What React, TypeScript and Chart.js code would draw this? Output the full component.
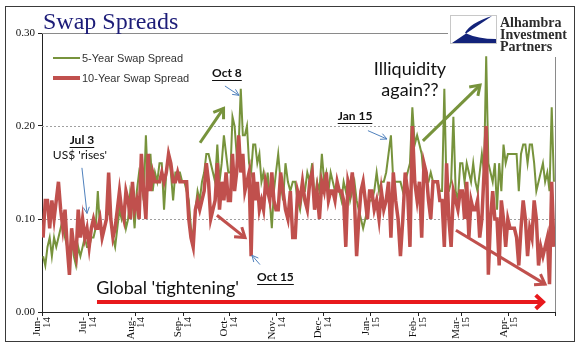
import React, { useEffect, useRef } from 'react';
import { Chart, registerables } from 'chart.js';

Chart.register(...registerables);

// ---- axis / categories ----
const monthLabels = [
  ['Jun-', '14'], ['Jul-', '14'], ['Aug-', '14'], ['Sep-', '14'], ['Oct-', '14'], ['Nov-', '14'],
  ['Dec-', '14'], ['Jan-', '15'], ['Feb-', '15'], ['Mar-', '15'], ['Apr-', '15'],
];
const monthStartDays = [0, 30, 61, 92, 122, 153, 183, 214, 245, 273, 304];
const monthLengths = [30, 31, 31, 30, 31, 30, 31, 31, 28, 31, 30];
const axisEndDay = 334;
const yTicks = [0, 0.1, 0.2, 0.3];

// ---- 5-Year Swap Spread (daily, by month) ----
const five_Jun14 = [0.06,0.05,0.07,0.08,0.06,0.08,0.07,0.08,0.09,0.10,0.08,0.07,0.06,0.08,0.06,0.05,0.07,0.06,0.07,0.08,0.07];
const five_Jul14 = [0.07,0.08,0.08,0.09,0.13,0.09,0.09,0.09,0.10,0.11,0.10,0.08,0.07,0.09,0.11,0.10,0.11,0.09,0.10,0.13,0.12,0.09];
const five_Aug14 = [0.13,0.15,0.14,0.12,0.19,0.13,0.17,0.13,0.15,0.14,0.16,0.16,0.11,0.15,0.17,0.15,0.12,0.15,0.15,0.15,0.14];
const five_Sep14 = [0.14,0.13,0.12,0.09,0.08,0.11,0.13,0.12,0.14,0.15,0.17,0.17,0.16,0.15,0.14,0.18,0.14,0.16,0.19,0.17,0.15];
const five_Oct14 = [0.15,0.21,0.20,0.17,0.18,0.24,0.19,0.19,0.20,0.16,0.15,0.18,0.18,0.16,0.17,0.14,0.15,0.13,0.15,0.12,0.09,0.13,0.15];
const five_Nov14 = [0.17,0.14,0.12,0.16,0.14,0.13,0.14,0.14,0.12,0.11,0.13,0.13,0.15,0.14,0.16,0.12,0.14,0.13,0.17];
const five_Dec14 = [0.14,0.15,0.13,0.15,0.14,0.13,0.14,0.13,0.12,0.14,0.13,0.14,0.12,0.13,0.14,0.12,0.11,0.10,0.09,0.10,0.11,0.12];
const five_Jan15 = [0.12,0.13,0.15,0.13,0.14,0.14,0.15,0.17,0.19,0.14,0.14,0.14,0.14,0.13,0.14,0.15,0.16,0.22,0.18,0.19];
const five_Feb15 = [0.18,0.17,0.14,0.14,0.14,0.15,0.14,0.14,0.14,0.13,0.13,0.24,0.13,0.13,0.14,0.21,0.13,0.12,0.16];
const five_Mar15 = [0.16,0.14,0.16,0.15,0.14,0.16,0.14,0.13,0.15,0.17,0.15,0.275,0.16,0.15,0.14,0.16,0.11,0.16,0.13,0.18,0.16,0.17];
const five_Apr15 = [0.17,0.17,0.17,0.17,0.13,0.17,0.18,0.18,0.16,0.18,0.18,0.16,0.13,0.14,0.15,0.16,0.14,0.15,0.13,0.22,0.14];

// ---- 10-Year Swap Spread (daily, by month) ----
const ten_Jun14 = [0.08,0.12,0.12,0.09,0.12,0.10,0.12,0.14,0.11,0.09,0.11,0.07,0.04,0.09,0.07,0.06,0.11,0.08,0.10,0.08,0.09];
const ten_Jul14 = [0.07,0.09,0.10,0.09,0.09,0.10,0.08,0.09,0.10,0.15,0.10,0.08,0.09,0.11,0.13,0.11,0.10,0.13,0.12,0.10,0.14,0.11];
const ten_Aug14 = [0.12,0.10,0.17,0.13,0.10,0.17,0.13,0.15,0.14,0.14,0.14,0.15,0.14,0.15,0.17,0.16,0.14,0.14,0.15,0.14,0.14];
const ten_Sep14 = [0.14,0.14,0.10,0.08,0.07,0.11,0.12,0.11,0.12,0.13,0.16,0.14,0.10,0.11,0.12,0.16,0.11,0.14,0.12,0.15,0.12];
const ten_Oct14 = [0.12,0.17,0.13,0.15,0.19,0.15,0.17,0.13,0.14,0.15,0.06,0.15,0.12,0.14,0.11,0.12,0.11,0.14,0.13,0.12,0.15,0.12,0.11];
const ten_Nov14 = [0.11,0.15,0.13,0.11,0.10,0.13,0.08,0.08,0.13,0.12,0.14,0.12,0.11,0.14,0.15,0.11,0.13,0.10,0.14];
const ten_Dec14 = [0.13,0.15,0.12,0.13,0.13,0.12,0.14,0.13,0.13,0.12,0.07,0.14,0.13,0.15,0.12,0.06,0.10,0.13,0.14,0.12,0.10,0.13];
const ten_Jan15 = [0.13,0.11,0.12,0.10,0.13,0.11,0.12,0.14,0.08,0.15,0.12,0.10,0.06,0.10,0.15,0.13,0.07,0.20,0.14,0.12];
const ten_Feb15 = [0.14,0.08,0.16,0.15,0.12,0.10,0.14,0.14,0.14,0.12,0.12,0.07,0.16,0.10,0.07,0.13,0.12,0.11,0.13];
const ten_Mar15 = [0.13,0.10,0.14,0.08,0.12,0.11,0.11,0.12,0.08,0.10,0.15,0.20,0.04,0.10,0.13,0.10,0.10,0.05,0.12,0.10,0.07,0.10];
const ten_Apr15 = [0.09,0.09,0.09,0.08,0.05,0.09,0.12,0.10,0.06,0.09,0.08,0.12,0.10,0.05,0.07,0.06,0.07,0.08,0.03,0.14,0.07];

const fiveYearByMonth = [five_Jun14, five_Jul14, five_Aug14, five_Sep14, five_Oct14, five_Nov14, five_Dec14, five_Jan15, five_Feb15, five_Mar15, five_Apr15];
const tenYearByMonth = [ten_Jun14, ten_Jul14, ten_Aug14, ten_Sep14, ten_Oct14, ten_Nov14, ten_Dec14, ten_Jan15, ten_Feb15, ten_Mar15, ten_Apr15];

const seriesNames = ['5-Year Swap Spread', '10-Year Swap Spread'];

// ---- annotations (data coordinates: day since Jun 1 2014, spread) ----
const textNotes = [
  { text: 'Jul 3', at: [26.0, 0.185], style: 'tag' },
  { text: "US$ 'rises'", at: [24.7, 0.169], style: 'small' },
  { text: 'Oct 8', at: [120.4, 0.257], style: 'tag' },
  { text: 'Oct 15', at: [152.0, 0.038], style: 'tag' },
  { text: 'Jan 15', at: [203.8, 0.211], style: 'tag' },
  { text: 'Illiquidity', at: [239.6, 0.261], style: 'big' },
  { text: 'again??', at: [239.6, 0.238], style: 'big' },
];
const globalNote = { text: "Global 'tightening'", at: [35.3, 0.026] };
const arrowNotes = [
  { from: [26.0, 0.155], to: [29.3, 0.106], kind: 'blue' },
  { from: [119.1, 0.243], to: [128.3, 0.233], kind: 'blue' },
  { from: [141.9, 0.051], to: [136.7, 0.061], kind: 'blue' },
  { from: [212.2, 0.195], to: [224.6, 0.186], kind: 'blue' },
  { from: [102.9, 0.182], to: [118.2, 0.219], kind: 'green' },
  { from: [248.0, 0.184], to: [285.2, 0.244], kind: 'green' },
  { from: [113.9, 0.104], to: [132.2, 0.080], kind: 'red' },
  { from: [269.5, 0.088], to: [327.5, 0.030], kind: 'red' },
  { from: [35.8, 0.0108], to: [326.2, 0.0108], kind: 'bright' },
];

const GREEN = '#77933C';
const RED = '#C0504D';

function buildPoints(byMonth: number[][]) {
  const pts: { x: number; y: number }[] = [];
  byMonth.forEach((arr, m) => {
    const n = arr.length;
    arr.forEach((v, i) => {
      pts.push({ x: monthStartDays[m] + ((i + 0.5) * monthLengths[m]) / n, y: v });
    });
  });
  return pts;
}

function drawArrow(ctx: CanvasRenderingContext2D, x1: number, y1: number, x2: number, y2: number, color: string, lw: number, head: number, ang = 0.55) {
  ctx.save();
  ctx.strokeStyle = color;
  ctx.lineWidth = lw;
  ctx.lineCap = 'butt';
  ctx.lineJoin = 'miter';
  ctx.beginPath();
  ctx.moveTo(x1, y1);
  ctx.lineTo(x2, y2);
  ctx.stroke();
  const a = Math.atan2(y2 - y1, x2 - x1);
  ctx.beginPath();
  ctx.moveTo(x2 - head * Math.cos(a - ang), y2 - head * Math.sin(a - ang));
  ctx.lineTo(x2, y2);
  ctx.lineTo(x2 - head * Math.cos(a + ang), y2 - head * Math.sin(a + ang));
  ctx.stroke();
  ctx.restore();
}

const LOGO_LEFT = 448;
const LOGO_BOTTOM = 57;

const decorPlugin = {
  id: 'decor',
  beforeDraw(chart: any) {
    const ctx = chart.ctx as CanvasRenderingContext2D;
    ctx.save();
    ctx.fillStyle = '#ffffff';
    ctx.fillRect(0, 0, chart.width, chart.height);
    ctx.strokeStyle = '#3a3a3a';
    ctx.lineWidth = 1;
    ctx.strokeRect(5.5, 6.5, 569, 335);
    ctx.restore();
  },
  beforeDatasetsDraw(chart: any) {
    const ctx = chart.ctx as CanvasRenderingContext2D;
    const { left, right, top, bottom } = chart.chartArea;
    const ys = chart.scales.y;
    ctx.save();
    ctx.strokeStyle = '#a0a0a0';
    ctx.lineWidth = 1;
    ctx.setLineDash([2, 2]);
    [0.1, 0.2].forEach((v) => {
      const y = Math.round(ys.getPixelForValue(v)) + 0.5;
      ctx.beginPath();
      ctx.moveTo(left, y);
      ctx.lineTo(right, y);
      ctx.stroke();
    });
    ctx.setLineDash([]);
    ctx.strokeStyle = '#8a8a8a';
    const ty = Math.round(top) + 0.5;
    ctx.beginPath();
    ctx.moveTo(left, ty);
    ctx.lineTo(LOGO_LEFT, ty);
    ctx.stroke();
    const rx = Math.round(right) + 0.5;
    ctx.beginPath();
    ctx.moveTo(rx, LOGO_BOTTOM);
    ctx.lineTo(rx, bottom);
    ctx.stroke();
    ctx.restore();
  },
  afterDatasetsDraw(chart: any) {
    const ctx = chart.ctx as CanvasRenderingContext2D;
    const xs = chart.scales.x;
    const ys = chart.scales.y;
    const px = (d: number) => xs.getPixelForValue(d);
    const py = (v: number) => ys.getPixelForValue(v);
    const { left } = chart.chartArea;

    ctx.save();
    // Title
    ctx.fillStyle = '#1c1c78';
    ctx.font = '24px "Liberation Serif", "Times New Roman", serif';
    ctx.textBaseline = 'alphabetic';
    ctx.textAlign = 'left';
    ctx.fillText('Swap Spreads', left + 1, 29);

    // Legend
    const legendRows = [
      { name: seriesNames[0], color: GREEN, w: 2, y: 58 },
      { name: seriesNames[1], color: RED, w: 4, y: 78 },
    ];
    legendRows.forEach((r) => {
      ctx.strokeStyle = r.color;
      ctx.lineWidth = r.w;
      ctx.beginPath();
      ctx.moveTo(left + 11, r.y);
      ctx.lineTo(left + 38, r.y);
      ctx.stroke();
      ctx.fillStyle = '#333333';
      ctx.font = '11px "Liberation Sans", Arial, sans-serif';
      ctx.textBaseline = 'middle';
      ctx.fillText(r.name, left + 40, r.y + 0.5);
    });

    // Arrows
    arrowNotes.forEach((a) => {
      const x1 = px(a.from[0]), y1 = py(a.from[1]), x2 = px(a.to[0]), y2 = py(a.to[1]);
      if (a.kind === 'blue') drawArrow(ctx, x1, y1, x2, y2, '#4F81BD', 1, 7, 0.45);
      else if (a.kind === 'green') drawArrow(ctx, x1, y1, x2, y2, GREEN, 3, 11, 0.6);
      else if (a.kind === 'red') drawArrow(ctx, x1, y1, x2, y2, RED, 3, 11, 0.6);
      else drawArrow(ctx, x1, y1, x2, y2, '#E8191C', 4, 10, 0.75);
    });

    // Text notes
    textNotes.forEach((t) => {
      const cx = px(t.at[0]);
      const cy = py(t.at[1]);
      ctx.textAlign = 'center';
      ctx.textBaseline = 'middle';
      ctx.fillStyle = '#111111';
      if (t.style === 'tag') {
        ctx.font = 'bold 12px Lato, "Open Sans", sans-serif';
        ctx.fillText(t.text, cx, cy);
        const w = ctx.measureText(t.text).width;
        ctx.strokeStyle = '#111111';
        ctx.lineWidth = 1;
        ctx.beginPath();
        ctx.moveTo(cx - w / 2, Math.round(cy + 7) + 0.5);
        ctx.lineTo(cx + w / 2, Math.round(cy + 7) + 0.5);
        ctx.stroke();
      } else if (t.style === 'small') {
        ctx.font = '12px Lato, "Open Sans", sans-serif';
        ctx.fillText(t.text, cx, cy);
      } else {
        ctx.font = '18px Lato, "Open Sans", sans-serif';
        ctx.fillText(t.text, cx, cy);
      }
    });
    ctx.textAlign = 'left';
    ctx.textBaseline = 'middle';
    ctx.font = '18px Lato, "Open Sans", sans-serif';
    ctx.fillStyle = '#111111';
    ctx.fillText(globalNote.text, px(globalNote.at[0]), py(globalNote.at[1]));

    // Logo
    ctx.fillStyle = '#ffffff';
    ctx.fillRect(449, 13, 50, 32);
    ctx.strokeStyle = '#c8c8c8';
    ctx.lineWidth = 1;
    ctx.strokeRect(450.5, 15.5, 46, 28);
    ctx.fillStyle = '#13237a';
    ctx.beginPath();
    ctx.moveTo(452, 43);
    ctx.lineTo(492, 16);
    ctx.quadraticCurveTo(470, 23, 465, 33);
    ctx.quadraticCurveTo(478, 39, 496, 39);
    ctx.lineTo(496, 43);
    ctx.closePath();
    ctx.fill();
    ctx.fillStyle = '#2b2b2b';
    ctx.font = 'bold 14px "Liberation Serif", "Times New Roman", serif';
    ctx.textAlign = 'left';
    ctx.textBaseline = 'alphabetic';
    ctx.fillText('Alhambra', 500, 27);
    ctx.fillText('Investment', 500, 39);
    ctx.fillText('Partners', 500, 51);
    ctx.restore();
  },
};

export default function App() {
  const ref = useRef<HTMLCanvasElement | null>(null);
  useEffect(() => {
    if (!ref.current) return;
    const tickFont = { family: '"Liberation Serif", "Times New Roman", serif', size: 11 };
    const chart = new Chart(ref.current, {
      type: 'line',
      data: {
        datasets: [
          {
            label: seriesNames[0],
            data: buildPoints(fiveYearByMonth),
            borderColor: GREEN,
            borderWidth: 2,
            pointRadius: 0,
            tension: 0,
            order: 1,
          },
          {
            label: seriesNames[1],
            data: buildPoints(tenYearByMonth),
            borderColor: RED,
            borderWidth: 3.5,
            pointRadius: 0,
            tension: 0,
            order: 0,
          },
        ],
      },
      options: {
        responsive: false,
        animation: false,
        devicePixelRatio: 1,
        layout: { padding: { left: 0, top: 33, right: 25, bottom: 0 } },
        plugins: { legend: { display: false }, tooltip: { enabled: false }, title: { display: false } },
        scales: {
          x: {
            type: 'linear',
            min: 0,
            max: axisEndDay,
            afterBuildTicks: (s: any) => {
              s.ticks = [...monthStartDays, axisEndDay].map((v) => ({ value: v }));
            },
            afterFit: (s: any) => {
              s.height = 49;
            },
            ticks: {
              autoSkip: false,
              minRotation: 90,
              maxRotation: 90,
              padding: 1,
              labelOffset: -5,
              color: '#111111',
              font: { ...tickFont, lineHeight: 0.92 },
              callback: (v: any) => {
                const i = monthStartDays.indexOf(Number(v));
                return i >= 0 ? monthLabels[i] : '';
              },
            },
            grid: { display: true, drawOnChartArea: false, drawTicks: true, tickLength: 4, color: '#222222' },
            border: { display: true, color: '#222222' },
          },
          y: {
            min: 0,
            max: 0.3,
            afterBuildTicks: (s: any) => {
              s.ticks = yTicks.map((v) => ({ value: v }));
            },
            afterFit: (s: any) => {
              s.width = 42;
            },
            ticks: {
              padding: 3,
              color: '#111111',
              font: tickFont,
              callback: (v: any) => Number(v).toFixed(2),
            },
            grid: { display: true, drawOnChartArea: false, drawTicks: true, tickLength: 4, color: '#222222' },
            border: { display: true, color: '#222222' },
          },
        },
      },
      plugins: [decorPlugin],
    } as any);
    return () => chart.destroy();
  }, []);
  return (
    <div style={{ position: 'absolute', left: 0, top: 0, width: 580, height: 361 }}>
      <canvas ref={ref} width={580} height={361} style={{ width: 580, height: 361, display: 'block' }} />
    </div>
  );
}
